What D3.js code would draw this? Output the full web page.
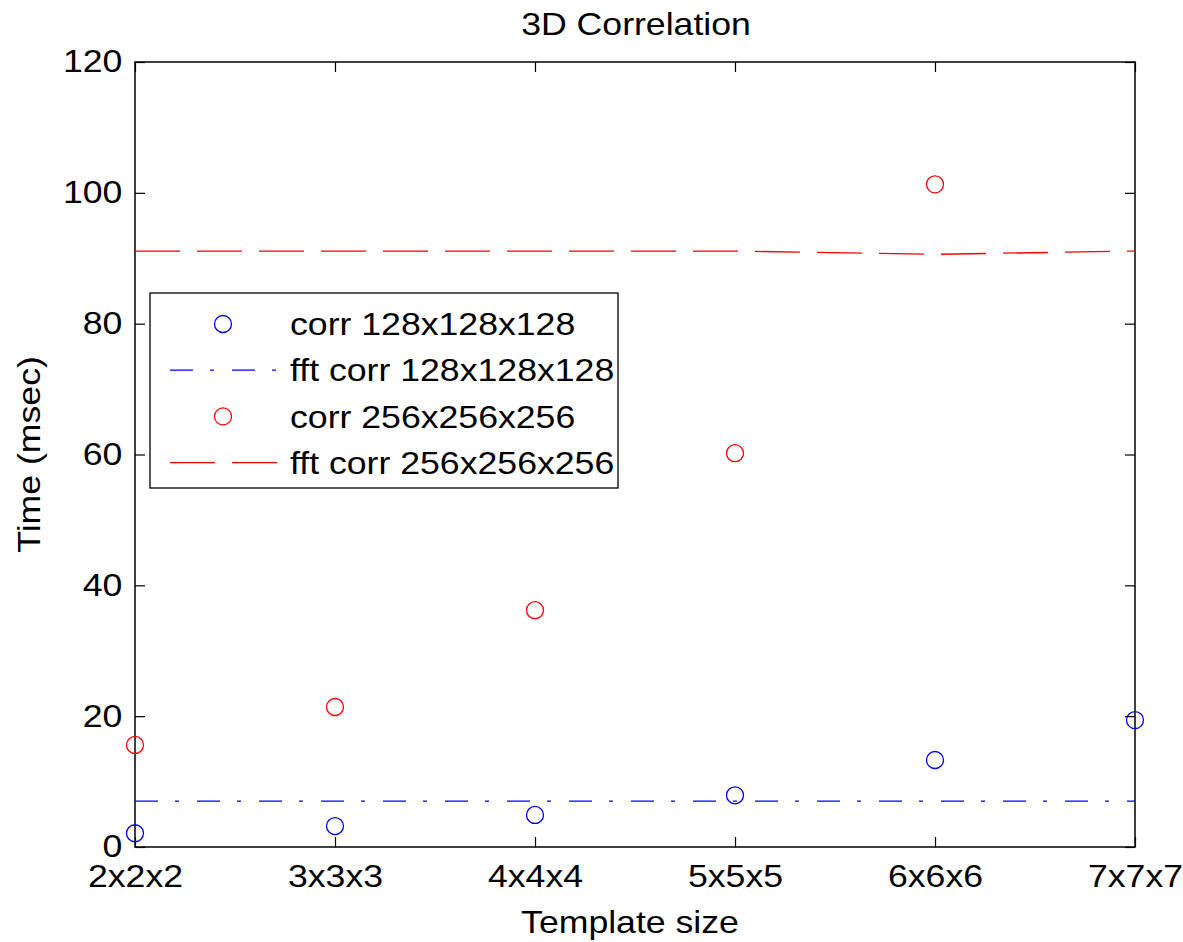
<!DOCTYPE html>
<html>
<head>
<meta charset="utf-8">
<script src="https://cdn.jsdelivr.net/npm/d3@7"></script>
<style>
body { margin: 0; background: #fff; }
text { font-family: "Liberation Sans", Arial, sans-serif; fill: #000; }
</style>
</head>
<body>
<script>
// data
var sizes = ["2x2x2", "3x3x3", "4x4x4", "5x5x5", "6x6x6", "7x7x7"];
var corr128 = [2.1, 3.2, 4.9, 7.9, 13.3, 19.4];
var fft128 = [7.0, 7.0, 7.0, 7.0, 7.0, 7.0];
var corr256 = [15.6, 21.4, 36.2, 60.2, 101.3, null];
var fft256 = [91.1, 91.1, 91.1, 91.1, 90.6, 91.1];
var yTicks = [0, 20, 40, 60, 80, 100, 120];
var legendLabels = ["corr 128x128x128", "fft corr 128x128x128", "corr 256x256x256", "fft corr 256x256x256"];

var FS = "31px", SX = 1.15;

var svg = d3.select("body").append("svg")
  .attr("width", 1183)
  .attr("height", 942);

var margin = {top: 62, right: 48, bottom: 95, left: 135},
  width = 1183 - margin.left - margin.right,
  height = 942 - margin.top - margin.bottom,
  g = svg.append("g").attr("transform", "translate(" + margin.left + "," + margin.top + ")");

var x = d3.scalePoint().domain(sizes).range([0, width]);
var y = d3.scaleLinear().domain([0, 120]).range([height, 0]);

// axes with inward ticks on all four sides
g.append("g")
  .attr("transform", "translate(0," + height + ")")
  .call(d3.axisBottom(x).tickSizeInner(-10).tickSizeOuter(0).tickPadding(18))
  .call(function(a) { a.select(".domain").remove(); })
  .selectAll("text").style("font-size", FS).attr("transform", "scale(" + SX + ",1)");

g.append("g")
  .call(d3.axisLeft(y).tickValues(yTicks).tickSizeInner(-10).tickSizeOuter(0).tickPadding(11))
  .call(function(a) { a.select(".domain").remove(); })
  .selectAll("text").style("font-size", FS).attr("transform", "scale(" + SX + ",1)");

g.append("g")
  .call(d3.axisTop(x).tickSizeInner(-10).tickSizeOuter(0).tickFormat(""))
  .call(function(a) { a.select(".domain").remove(); });

g.append("g")
  .attr("transform", "translate(" + width + ",0)")
  .call(d3.axisRight(y).tickValues(yTicks).tickSizeInner(-10).tickSizeOuter(0).tickFormat(""))
  .call(function(a) { a.select(".domain").remove(); });

g.selectAll(".tick line").attr("stroke", "#000").attr("stroke-width", 1.2);

g.append("rect")
  .attr("width", width)
  .attr("height", height)
  .attr("fill", "none")
  .attr("stroke", "#000")
  .attr("stroke-width", 1.5);

var line = d3.line()
  .x(function(d, i) { return x(sizes[i]); })
  .y(function(d) { return y(d); });

g.append("path")
  .datum(fft128)
  .attr("d", line)
  .attr("fill", "none")
  .attr("stroke", "#0000ff")
  .attr("stroke-width", 1.3)
  .attr("stroke-dasharray", "23,17,4,18");

g.append("path")
  .datum(fft256)
  .attr("d", line)
  .attr("fill", "none")
  .attr("stroke", "#ff0000")
  .attr("stroke-width", 1.3)
  .attr("stroke-dasharray", "45,17");

function dots(vals, color) {
  g.selectAll(null)
    .data(vals.map(function(v, i) { return {s: sizes[i], v: v}; }).filter(function(d) { return d.v != null; }))
    .enter().append("circle")
    .attr("cx", function(d) { return x(d.s); })
    .attr("cy", function(d) { return y(d.v); })
    .attr("r", 8.5)
    .attr("fill", "none")
    .attr("stroke", color)
    .attr("stroke-width", 1.3);
}
dots(corr128, "#0000ff");
dots(corr256, "#ff0000");

// title and labels (slightly stretched like the original export)
function label(tx, ty, rot, str) {
  svg.append("text")
    .attr("transform", "translate(" + tx + "," + ty + ") rotate(" + rot + ") scale(" + SX + ",1)")
    .attr("text-anchor", "middle")
    .style("font-size", FS)
    .text(str);
}
label(636, 35, 0, "3D Correlation");
label(630, 933, 0, "Template size");
label(40, margin.top + height / 2, -90, "Time (msec)");

// legend
var lg = svg.append("g").attr("transform", "translate(150,293)");
lg.append("rect")
  .attr("width", 468).attr("height", 195)
  .attr("fill", "#fff").attr("stroke", "#000").attr("stroke-width", 1.3);

var legendStyle = [
  {type: "dot", color: "#0000ff"},
  {type: "line", color: "#0000ff", dash: "23,17,4,18"},
  {type: "dot", color: "#ff0000"},
  {type: "line", color: "#ff0000", dash: "45,17"}
];

var item = lg.selectAll(".legend")
  .data(legendLabels)
  .enter().append("g")
  .attr("class", "legend")
  .attr("transform", function(d, i) { return "translate(0," + (31 + i * 46.2) + ")"; });

item.each(function(d, i) {
  var it = d3.select(this), st = legendStyle[i];
  if (st.type == "dot") {
    it.append("circle").attr("cx", 73).attr("cy", 0).attr("r", 8.5)
      .attr("fill", "none").attr("stroke", st.color).attr("stroke-width", 1.3);
  } else {
    it.append("line").attr("x1", 20).attr("x2", 127).attr("y1", 0).attr("y2", 0)
      .attr("stroke", st.color).attr("stroke-width", 1.3).attr("stroke-dasharray", st.dash);
  }
});

item.append("text")
  .attr("transform", "translate(140,0) scale(" + SX + ",1)")
  .attr("dy", "0.36em")
  .style("font-size", FS)
  .text(function(d) { return d; });
</script>
</body>
</html>
